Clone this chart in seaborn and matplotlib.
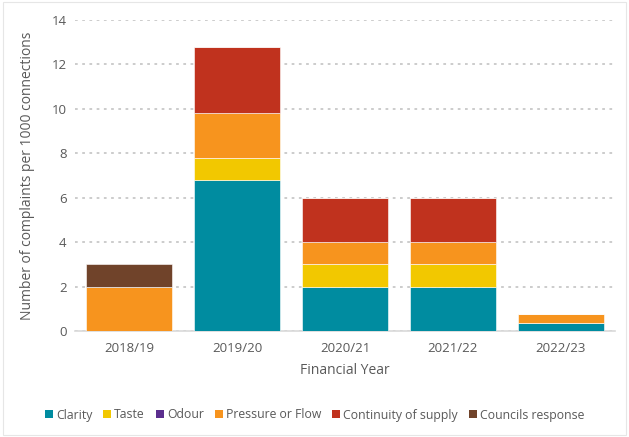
import matplotlib
matplotlib.use("Agg")
import matplotlib.pyplot as plt
import seaborn as sns
import numpy as np
from matplotlib.patches import Rectangle, Patch

years = ["2018/19", "2019/20", "2020/21", "2021/22", "2022/23"]
clarity = [0, 6.8, 2, 2, 0.35]
taste = [0, 1.0, 1, 1, 0]
odour = [0, 0, 0, 0, 0]
pressure = [2, 2.0, 1, 1, 0.4]
continuity = [0, 3.0, 2, 2, 0]
councils = [1, 0, 0, 0, 0]

series_names = ["Clarity", "Taste", "Odour", "Pressure or Flow",
                "Continuity of supply", "Councils response"]
series_vals = [clarity, taste, odour, pressure, continuity, councils]
colors = ["#008CA0", "#F2C800", "#5B2E8E", "#F7941E", "#C0321E", "#70432A"]

sns.set_theme(style="white")
plt.rcParams["font.family"] = ["Open Sans", "DejaVu Sans"]
text_col = "#595959"

fig = plt.figure(figsize=(6.29, 4.37), dpi=100)
ax = fig.add_axes([75 / 629, 1 - 331 / 437, 540 / 629, 311 / 437])

bottom = np.zeros(len(years))
for name, vals, col in zip(series_names, series_vals, colors):
    sns.barplot(x=years, y=vals, bottom=bottom, color=col, width=0.8,
                edgecolor="#ffffff", linewidth=0.4, saturation=1, ax=ax,
                zorder=3)
    bottom = bottom + np.array(vals)

ax.set_xlim(-0.5, 4.5)
ax.set_ylim(0, 14)
ax.set_yticks(range(0, 15, 2))
ax.yaxis.grid(True, linestyle=(0, (1.5, 2.5)), color="#C8C8C8", linewidth=1.3, zorder=0)
ax.xaxis.grid(False)
for s in ["top", "right", "left"]:
    ax.spines[s].set_visible(False)
ax.spines["bottom"].set_color("#D9D9D9")
ax.spines["bottom"].set_linewidth(1.2)
ax.tick_params(axis="both", length=0, labelsize=9.5, colors=text_col, pad=6)
ax.tick_params(axis="x", pad=8)
ax.set_xlabel("Financial Year", fontsize=10, color=text_col, labelpad=6)
ax.set_ylabel("Number of complaints per 1000 connections", fontsize=10,
              color=text_col, labelpad=12)

handles = [Patch(facecolor=c, edgecolor="none") for c in colors]
fig.legend(handles, series_names, loc="center", bbox_to_anchor=(0.5, 1 - 415 / 437),
           ncol=6, frameon=False, fontsize=8.8, handlelength=0.65, handleheight=0.65,
           handletextpad=0.25, columnspacing=0.9, labelcolor=text_col)

fig.patches.append(Rectangle((0.004, 0.004), 0.992, 0.992, transform=fig.transFigure,
                             fill=False, edgecolor="#E6E6E6", linewidth=0.8))

fig.savefig("out.png", dpi=100)
